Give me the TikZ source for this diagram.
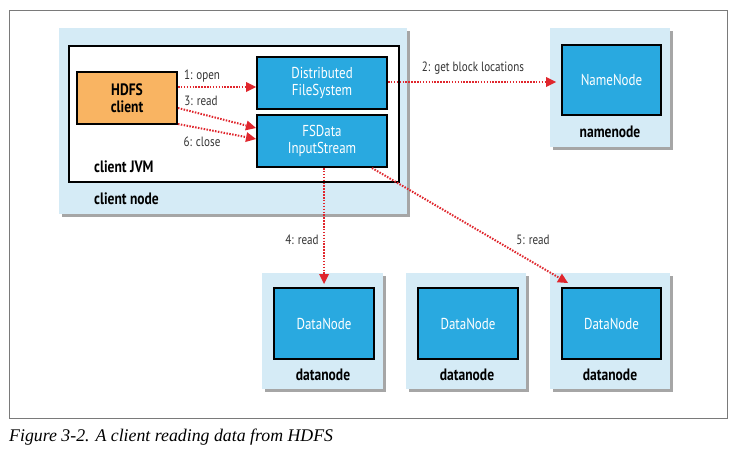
\documentclass[tikz,border=0pt]{standalone}
\usepackage{fontspec}
\setmainfont{PT Sans}[FakeStretch=0.82]
\newfontfamily\capfont{Liberation Serif}
\usetikzlibrary{arrows.meta,shadows}
\definecolor{lightbg}{HTML}{D5EBF6}
\definecolor{bluebox}{HTML}{29A9E0}
\definecolor{orangebox}{HTML}{F9B462}
\definecolor{redline}{HTML}{E0262D}
\definecolor{frame}{HTML}{7A7A7A}
\definecolor{labelc}{HTML}{333333}
\tikzset{
  lbox/.style={fill=lightbg, draw=none, anchor=north west, inner sep=0,
    drop shadow={shadow xshift=2.5pt, shadow yshift=-2.5pt, fill=black, opacity=0.35}},
  bbox/.style={fill=bluebox, draw=black, line width=2pt, anchor=north west, inner sep=0,
    text=white, font=\fontsize{15.8}{16.5}\selectfont, align=center},
  obox/.style={fill=orangebox, draw=black, line width=2pt, anchor=north west, inner sep=0,
    text=black, font=\fontsize{16.5}{17}\selectfont\bfseries, align=center},
  wbox/.style={fill=white, draw=black, line width=2pt, anchor=north west, inner sep=0},
  blab/.style={font=\fontsize{16.5}{17}\selectfont\bfseries, text=black, inner sep=0},
  alab/.style={font=\fontsize{13.5}{14}\selectfont, text=labelc, inner sep=0},
  arr/.style={draw=redline, line width=2pt, dash pattern=on 1.5pt off 1.4pt,
    -{Triangle[length=10pt,width=10pt,fill=redline,line width=0pt]}},
}
\begin{document}
\begin{tikzpicture}[x=1pt,y=-1pt]
\useasboundingbox (0,0) rectangle (737,455);
\node[draw=frame, line width=1.2pt, fill=white, minimum width=718pt, minimum height=408pt, anchor=north west, inner sep=0] (frame) at (9,10) {};
% client node
\node[lbox, minimum width=348pt, minimum height=186pt] (cn) at (59,28) {};
\node[wbox, minimum width=330pt, minimum height=136pt] (jvm) at (68,45) {};
\node[obox, minimum width=100pt, minimum height=52pt] (hdfs) at (76,71) {HDFS\\client};
\node[bbox, minimum width=130pt, minimum height=52pt] (dfs) at (256,56) {Distributed\\FileSystem};
\node[bbox, minimum width=130pt, minimum height=52pt] (fsd) at (256,114) {FSData\\InputStream};
\node[blab, anchor=west] (jvmlab) at (94,167) {client JVM};
\node[blab, anchor=west] (cnlab) at (94,199) {client node};
% namenode
\node[lbox, minimum width=120pt, minimum height=119pt] (nnl) at (550,28) {};
\node[bbox, minimum width=99pt, minimum height=70pt] (nn) at (561,44) {NameNode};
\node[blab] (nnlab) at (610,132) {namenode};
% datanodes
\node[lbox, minimum width=121pt, minimum height=116pt] (d1l) at (262,273) {};
\node[bbox, minimum width=100pt, minimum height=71pt] (d1) at (273,287) {DataNode};
\node[blab] (d1lab) at (323,375) {datanode};
\node[lbox, minimum width=120pt, minimum height=116pt] (d2l) at (406,273) {};
\node[bbox, minimum width=100pt, minimum height=71pt] (d2) at (417,287) {DataNode};
\node[blab] (d2lab) at (467,375) {datanode};
\node[lbox, minimum width=120pt, minimum height=116pt] (d3l) at (550,273) {};
\node[bbox, minimum width=99pt, minimum height=71pt] (d3) at (561,287) {DataNode};
\node[blab] (d3lab) at (610,375) {datanode};
% arrows
\draw[arr] ([yshift=11pt]hdfs.east) -- ([yshift=11pt]hdfs.east -| dfs.west);
\draw[arr] ([yshift=-10pt]hdfs.east) -- ([yshift=13pt]fsd.west);
\draw[arr] ([yshift=1pt]hdfs.south east) -- ([yshift=2pt]fsd.west);
\draw[arr, shorten >=5pt] ([yshift=1pt]dfs.east) -- ([yshift=1pt]dfs.east -| nn.west);
\draw[arr, shorten >=3pt] (fsd.south -| d1.north) -- (d1.north);
\draw[arr] ([xshift=-16pt]fsd.south east) -- ([xshift=7pt,yshift=4pt]d3.north west);
% arrow labels
\node[alab] (l1) at (202,76) {1: open};
\node[alab] (l3) at (201,101) {3: read};
\node[alab] (l6) at (202,142) {6: close};
\node[alab] (l2) at (473,68) {2: get block locations};
\node[alab] (l4) at (302,240) {4: read};
\node[alab] (l5) at (533,240) {5: read};
% caption
\node[anchor=west, inner sep=0, font=\capfont\itshape\fontsize{17.8}{19}\selectfont] (cap) at (9,437) {Figure 3-2. A client reading data from HDFS};
\end{tikzpicture}
\end{document}
